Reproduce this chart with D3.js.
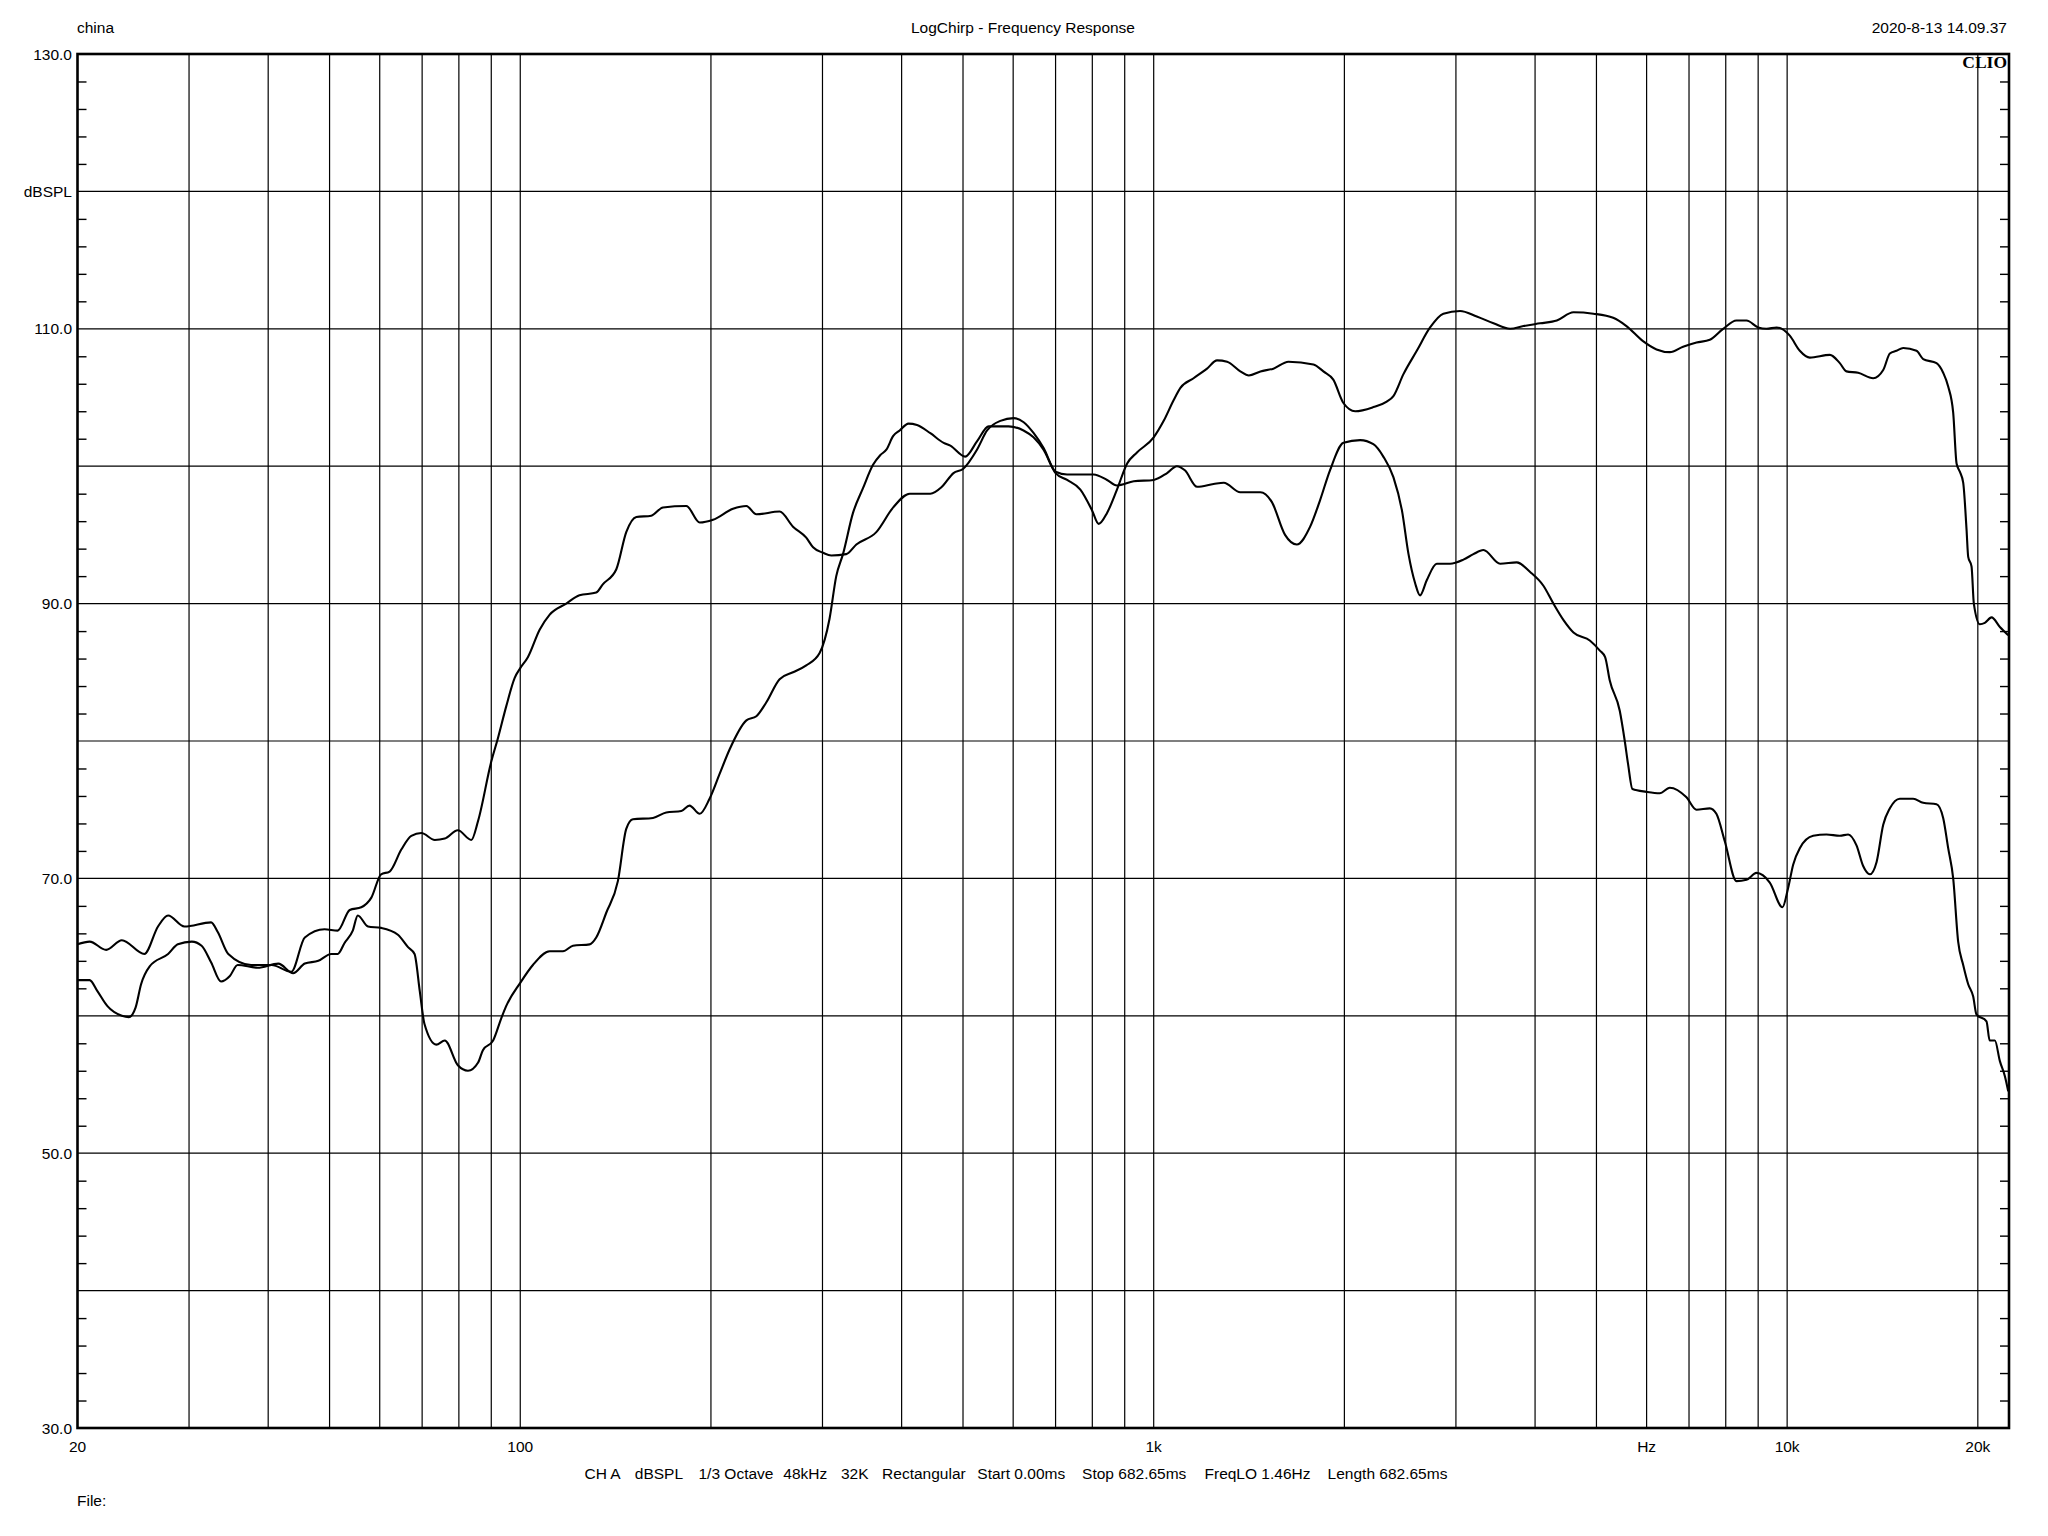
<!DOCTYPE html>
<html>
<head>
<meta charset="utf-8">
<script src="https://cdn.jsdelivr.net/npm/d3@7"></script>
<style>
html,body{margin:0;padding:0;background:#fff;}
svg{display:block;}
text{font-family:"Liberation Sans",Arial,sans-serif;fill:#000;}
</style>
</head>
<body>
<svg id="chart" width="2048" height="1536"></svg>
<script>
// ---- data ----
const freqA = [20,20.9,22.2,23.5,25.5,26.8,27.8,29.5,32.5,33.3,34.6,37.6,40.5,43.5,45.7,49.1,51.5,53.8,56.1,58.2,60.3,62.2,64.9,67.3,69.8,73.3,76,79.7,83.7,85.8,90,92.2,95,98,100,102.8,107.3,111.3,118.2,124,131.8,135,141.8,147,152.5,161,168,182.9,192,201.5,216.7,227.5,235.9,256.7,269.5,282.8,289.9,300.6,309.8,327,339.3,364.8,388,412,444,463,483,500,526,545.7,572.7,601,623.4,646.5,670.6,700,730,804,844,875,930,1000,1050,1088,1120,1171,1243,1290,1370,1474,1536,1612,1682,1766,1830,1898,1993,2118,2222,2304,2390,2465,2525,2586,2633,2698,2798,2937,3083,3197,3315,3523,3742,3929,4123,4276,4436,4599,4886,5058,5160,5248,5442,5542,5610,5699,5996,6294,6527,6936,7193,7550,7732,7972,8318,8627,8946,9389,9832,10036,10221,10471,10992,11537,12110,12484,12868,13183,13509,13843,14180,14527,15064,15810,16397,17213,17633,17957,18287,18620,18964,19313,19667,19900,20640,20880,21278,21670,22068,22338];
const dbA = [65.2,65.4,64.8,65.5,64.5,66.5,67.3,66.5,66.8,66.1,64.5,63.7,63.7,63.2,65.7,66.3,66.2,67.7,67.9,68.6,70.3,70.5,72.1,73.1,73.3,72.8,72.9,73.5,72.8,74.2,78.5,80.2,82.5,84.6,85.3,86.1,88.1,89.2,90.0,90.6,90.8,91.4,92.5,95.2,96.3,96.4,97.0,97.1,95.9,96.1,96.9,97.1,96.5,96.7,95.6,94.8,94.1,93.7,93.5,93.6,94.3,95.2,97.0,98.0,98.0,98.5,99.5,99.8,101.2,102.6,103.3,103.5,103.2,102.4,101.3,99.6,99.4,99.4,99.0,98.6,98.9,99.0,99.5,100.0,99.7,98.5,98.7,98.8,98.1,98.1,97.4,95.0,94.3,95.6,97.5,99.7,101.7,101.9,101.6,100.7,99.2,96.8,93.6,91.5,90.6,91.7,92.9,92.9,93.2,93.6,93.9,92.9,93.0,92.3,91.3,90.0,88.8,87.9,87.3,86.6,86.1,84.4,82.2,80.0,78.3,76.5,76.3,76.2,76.6,75.9,75.0,75.1,74.7,72.7,69.8,69.9,70.4,69.7,67.9,69.3,71.0,72.2,73.1,73.2,73.1,73.2,72.4,70.9,70.3,71.2,73.9,75.1,75.8,75.8,75.5,75.4,74.4,72.2,70.0,65.4,63.7,62.3,61.4,60.1,59.6,58.2,58.2,56.7,55.6,54.5];

const freqB = [20,20.9,21.5,22.3,23.5,24.1,24.7,25.2,26,27.8,28.8,30.3,31.4,32.5,33.7,34.8,35.8,38.5,41.5,43.8,45.7,48,50.3,51.5,52.8,54.4,55.4,57.5,60.3,64.1,66.5,68.1,69.4,70.6,73.7,76,79.7,82.7,85.8,87.3,90.6,93.3,95,100,104.7,111.3,116.8,121.1,128.7,131.8,136.7,142.6,147,150.6,162,170,179.6,185,192,199,206.4,214.1,227.5,235.9,244.5,256.7,269.5,282.8,296.9,307.8,315.4,323.2,335.2,347.6,360.5,370,378.4,388,397.2,410,423,444,466,477.5,504,526,549,590,623,646,670,700,730,766,799,818.6,844,875,908,941,1000,1037,1075,1102,1156,1214,1259,1306,1370,1413,1474,1545,1632,1787,1853,1921,1993,2080,2222,2333,2390,2479,2602,2731,2866,3045,3236,3439,3653,3835,4074,4329,4599,4945,5313,5576,5922,6220,6527,6851,7193,7550,7925,8318,8627,9000,9277,9625,10097,10471,10860,11680,12110,12410,12946,13670,14180,14527,14880,15250,16005,16397,17213,17633,17957,18287,18513,18733,18964,19196,19313,19549,19713,20147,20517,21020,21670,22338];
const dbB = [62.6,62.6,61.8,60.7,60.0,59.9,60.6,62.3,63.6,64.5,65.2,65.4,65.1,63.9,62.5,62.9,63.7,63.5,63.8,63.1,63.8,64.0,64.5,64.5,65.3,66.2,67.3,66.5,66.4,65.9,65.0,64.5,61.8,59.4,57.9,58.2,56.4,56.0,56.6,57.5,58.2,59.8,60.7,62.4,63.7,64.7,64.7,65.1,65.2,65.7,67.5,69.8,73.6,74.3,74.4,74.8,74.9,75.3,74.7,75.8,77.6,79.4,81.5,81.8,82.8,84.5,85.0,85.5,86.4,88.9,92.0,93.6,96.6,98.4,100.1,100.8,101.2,102.2,102.6,103.1,103.0,102.4,101.7,101.5,100.7,101.8,102.9,102.9,102.6,102.1,101.2,99.5,99.0,98.3,96.8,95.8,96.6,98.3,100.2,101.0,102.1,103.3,104.8,105.7,106.4,107.1,107.7,107.6,106.9,106.6,106.9,107.1,107.6,107.4,106.9,106.3,104.6,104.0,104.3,104.7,105.1,106.7,108.4,110.1,111.1,111.3,110.9,110.4,110.0,110.2,110.4,110.6,111.2,111.1,110.8,110.2,109.1,108.5,108.3,108.7,109.0,109.2,110.0,110.6,110.6,110.1,110.0,110.1,109.5,108.4,107.9,108.1,107.5,106.9,106.8,106.4,107.0,108.2,108.4,108.6,108.4,107.8,107.5,106.8,105.8,103.9,100.2,99.6,98.8,95.4,93.4,92.7,90.0,88.5,88.6,89.0,88.3,87.7];

const gridFreqs = [30,40,50,60,70,80,90,100,200,300,400,500,600,700,800,900,1000,2000,3000,4000,5000,6000,7000,8000,9000,10000,20000];
const xTickValues = [20,100,1000,6000,10000,20000];
const xTickLabels = ["20","100","1k","Hz","10k","20k"];
const yGridValues = [40,50,60,70,80,90,100,110,120];
const yTickValues = [130,120,110,90,70,50,30];
const yTickLabels = ["130.0","dBSPL","110.0","90.0","70.0","50.0","30.0"];
const infoLabels = ["CH A","dBSPL","1/3 Octave","48kHz","32K","Rectangular","Start 0.00ms","Stop 682.65ms","FreqLO 1.46Hz","Length 682.65ms"];
const infoStarts = [584.5,634.8,698.5,783.3,840.9,882.1,977.3,1082.1,1204.5,1327.6];

// ---- layout ----
const L = 77.5, R = 2009, T = 54, B = 1428;
const svg = d3.select("#chart");
const x = d3.scaleLog().domain([20, 22400]).range([L, R]);
const y = d3.scaleLinear().domain([30, 130]).range([B, T]);

// grid
svg.append("g").selectAll("line").data(gridFreqs).join("line")
  .attr("x1", d => x(d)).attr("x2", d => x(d))
  .attr("y1", T).attr("y2", B)
  .attr("stroke", "#000").attr("stroke-width", 1.2);
svg.append("g").selectAll("line").data(yGridValues).join("line")
  .attr("x1", L).attr("x2", R)
  .attr("y1", d => y(d)).attr("y2", d => y(d))
  .attr("stroke", "#000").attr("stroke-width", 1.2);

// minor ticks via d3 axes (inward)
const minor = d3.range(32, 130, 2).filter(v => v % 10 !== 0);
const leftAxis = d3.axisRight(y).tickValues(minor).tickSize(9).tickFormat("");
const gl = svg.append("g").attr("transform", `translate(${L},0)`).call(leftAxis);
const rightAxis = d3.axisLeft(y).tickValues(minor).tickSize(9).tickFormat("");
const gr = svg.append("g").attr("transform", `translate(${R},0)`).call(rightAxis);
[gl, gr].forEach(g => {
  g.select(".domain").remove();
  g.selectAll("line").attr("stroke", "#000").attr("stroke-width", 1.4);
});

// frame
svg.append("rect").attr("x", L).attr("y", T).attr("width", R - L).attr("height", B - T)
  .attr("fill", "none").attr("stroke", "#000").attr("stroke-width", 2.6);

// curves
const line = d3.line().x(d => x(d[0])).y(d => y(d[1])).curve(d3.curveMonotoneX);
svg.append("path").datum(freqA.map((f, i) => [f, dbA[i]]))
  .attr("d", line).attr("fill", "none").attr("stroke", "#000").attr("stroke-width", 2.1);
svg.append("path").datum(freqB.map((f, i) => [f, dbB[i]]))
  .attr("d", line).attr("fill", "none").attr("stroke", "#000").attr("stroke-width", 2.1);

// y labels
svg.append("g").selectAll("text").data(yTickValues).join("text")
  .attr("x", 72).attr("y", d => y(d)).attr("dy", "0.36em")
  .attr("text-anchor", "end").attr("font-size", 15.5)
  .text((d, i) => yTickLabels[i]);

// x labels
svg.append("g").selectAll("text").data(xTickValues).join("text")
  .attr("x", d => x(d)).attr("y", 1452)
  .attr("text-anchor", "middle").attr("font-size", 15.5)
  .text((d, i) => xTickLabels[i]);

// header
svg.append("text").attr("x", 77).attr("y", 33).attr("font-size", 15.5).text("china");
svg.append("text").attr("x", 1023).attr("y", 33).attr("text-anchor", "middle").attr("font-size", 15.5)
  .text("LogChirp - Frequency Response");
svg.append("text").attr("x", 2007).attr("y", 33).attr("text-anchor", "end").attr("font-size", 15.5)
  .text("2020-8-13 14.09.37");
svg.append("text").attr("x", 2007).attr("y", 68).attr("text-anchor", "end")
  .attr("font-size", 17.5).attr("font-weight", "bold")
  .style("font-family", "'Liberation Serif','Times New Roman',serif").text("CLIO");

// footer
svg.append("g").selectAll("text").data(infoLabels).join("text")
  .attr("x", (d, i) => infoStarts[i]).attr("y", 1479).attr("font-size", 15.5)
  .text(d => d);
svg.append("text").attr("x", 77).attr("y", 1506).attr("font-size", 15.5).text("File:");
</script>
</body>
</html>
